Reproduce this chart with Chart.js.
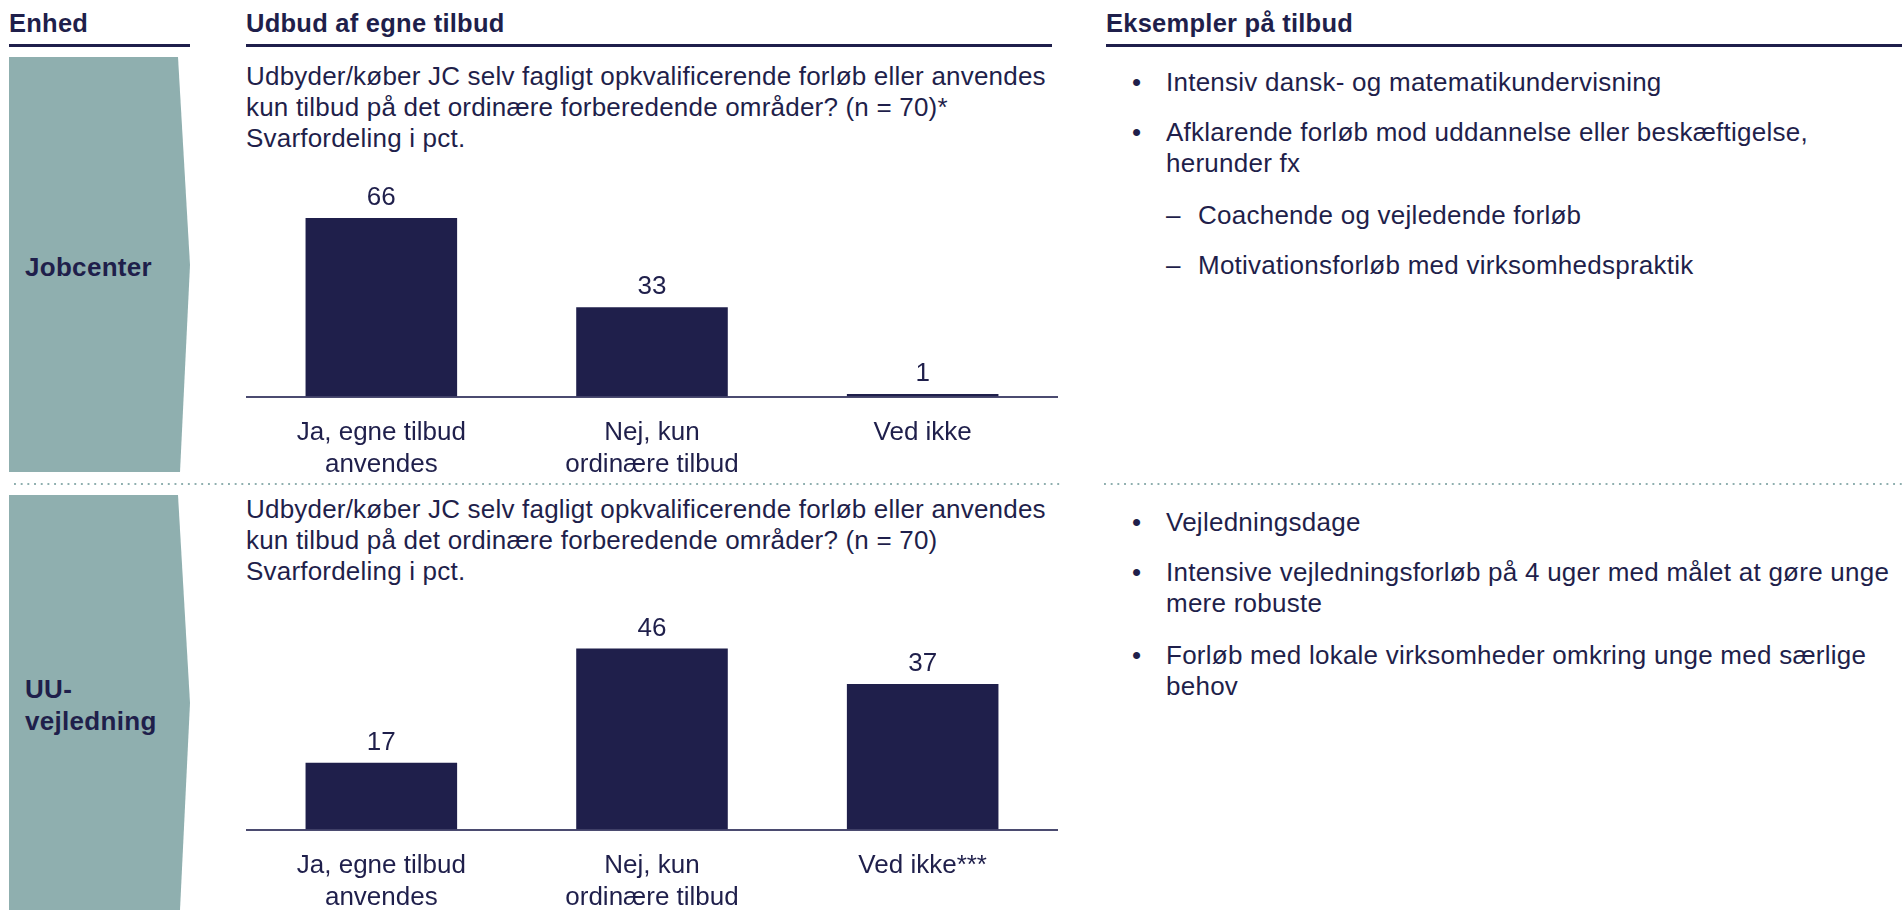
<!DOCTYPE html>
<html lang="da">

<head>
    <meta charset="UTF-8">
    <title>Udbud af egne tilbud</title>
    <style>
        body {
            margin: 0;
            width: 1902px;
            height: 918px;
            position: relative;
            background: #fff;
            font-family: "Liberation Sans", Arial, sans-serif;
            color: #1f1f4b;
            overflow: hidden;
        }

        .abs {
            position: absolute;
        }

        .head {
            font-weight: bold;
            font-size: 25.5px;
            letter-spacing: 0.25px;
            line-height: 30px;
            top: 8px;
        }

        .rule {
            height: 3px;
            top: 44px;
            background: #1f1f4b;
        }

        .dots {
            height: 2px;
            top: 483px;
            background-image: linear-gradient(to right, #8fafaf 0 2px, transparent 2px);
            background-size: 6.7px 2px;
        }

        .txt {
            font-size: 26px;
            letter-spacing: 0.2px;
            line-height: 31px;
        }

        .unit {
            font-weight: bold;
            font-size: 26px;
            letter-spacing: 0.3px;
            line-height: 32px;
            left: 25px;
        }

        .item {
            font-size: 26px;
            letter-spacing: 0.25px;
            line-height: 31px;
            left: 1166px;
            width: 736px;
        }

        .item::before {
            content: "•";
            position: absolute;
            left: -34px;
        }

        .sub {
            left: 1198px;
        }

        .sub::before {
            content: "–";
            left: -32px;
        }

        canvas {
            position: absolute;
        }
    </style>
</head>

<body>
    <div class="abs head" style="left:9px">Enhed</div>
    <div class="abs head" style="left:246px">Udbud af egne tilbud</div>
    <div class="abs head" style="left:1106px">Eksempler på tilbud</div>
    <div class="abs rule" style="left:9px;width:181px"></div>
    <div class="abs rule" style="left:246px;width:806px"></div>
    <div class="abs rule" style="left:1106px;width:796px"></div>

    <svg class="abs" style="left:0;top:0" width="200" height="918">
        <polygon points="9,57 178,57 190,265 180,472 9,472" fill="#8fafaf" />
        <polygon points="9,495 178,495 190,703 180,910 9,910" fill="#8fafaf" />
    </svg>
    <div class="abs unit" style="top:251px">Jobcenter</div>
    <div class="abs unit" style="top:673px">UU-<br>vejledning</div>

    <div class="abs dots" style="left:14px;width:1048px"></div>
    <div class="abs dots" style="left:1104px;width:798px"></div>

    <div class="abs txt" id="q1" style="left:246px;top:61px"></div>
    <div class="abs txt" id="q2" style="left:246px;top:494px"></div>

    <div class="abs item" style="top:67px">Intensiv dansk- og matematikundervisning</div>
    <div class="abs item" style="top:117px">Afklarende forløb mod uddannelse eller beskæftigelse,<br>herunder fx</div>
    <div class="abs item sub" style="top:200px">Coachende og vejledende forløb</div>
    <div class="abs item sub" style="top:250px">Motivationsforløb med virksomhedspraktik</div>

    <div class="abs item" style="top:507px">Vejledningsdage</div>
    <div class="abs item" style="top:557px">Intensive vejledningsforløb på 4 uger med målet at gøre unge<br>mere robuste</div>
    <div class="abs item" style="top:640px">Forløb med lokale virksomheder omkring unge med særlige<br>behov</div>

    <canvas id="chartJc" width="812" height="331" style="left:246px;top:170px"></canvas>
    <canvas id="chartUu" width="812" height="331" style="left:246px;top:603px"></canvas>

    <script src="https://cdn.jsdelivr.net/npm/chart.js@4.4.0/dist/chart.umd.min.js"></script>
    <script>
        const spoergsmaal1 = ['Udbyder/køber JC selv fagligt opkvalificerende forløb eller anvendes',
            'kun tilbud på det ordinære forberedende områder? (n = 70)*', 'Svarfordeling i pct.'];
        const spoergsmaal2 = ['Udbyder/køber JC selv fagligt opkvalificerende forløb eller anvendes',
            'kun tilbud på det ordinære forberedende områder? (n = 70)', 'Svarfordeling i pct.'];

        const kategorierJc = [['Ja, egne tilbud', 'anvendes'], ['Nej, kun', 'ordinære tilbud'], ['Ved ikke']];
        const kategorierUu = [['Ja, egne tilbud', 'anvendes'], ['Nej, kun', 'ordinære tilbud'], ['Ved ikke***']];
        const vaerdierJc = [66, 33, 1];
        const vaerdierUu = [17, 46, 37];

        document.getElementById('q1').innerHTML = spoergsmaal1.join('<br>');
        document.getElementById('q2').innerHTML = spoergsmaal2.join('<br>');

        const navy = '#1f1f4b';

        // tal over soejlerne
        const vaerdiLabels = {
            id: 'vaerdiLabels',
            afterDatasetsDraw(chart) {
                const ctx = chart.ctx;
                const meta = chart.getDatasetMeta(0);
                ctx.save();
                ctx.font = '26px "Liberation Sans", Arial, sans-serif';
                ctx.fillStyle = navy;
                ctx.textAlign = 'center';
                ctx.textBaseline = 'middle';
                meta.data.forEach((bar, i) => {
                    ctx.fillText(chart.data.datasets[0].data[i], bar.x, bar.y - 20);
                });
                ctx.restore();
            }
        };

        function tegn(id, labels, data, maks) {
            const ctx = document.getElementById(id).getContext('2d');
            return new Chart(ctx, {
                type: 'bar',
                data: {
                    labels: labels,
                    datasets: [{
                        data: data,
                        backgroundColor: navy,
                        barPercentage: 0.56,
                        categoryPercentage: 1,
                    }]
                },
                options: {
                    responsive: false,
                    animation: false,
                    layout: { padding: { top: 10, left: 0, right: 0, bottom: 0 } },
                    plugins: {
                        legend: { display: false },
                        tooltip: { enabled: false },
                    },
                    scales: {
                        x: {
                            grid: { display: false, drawTicks: false },
                            border: { display: true, color: '#4b4b70', width: 2 },
                            ticks: {
                                color: navy,
                                padding: 21,
                                maxRotation: 0,
                                autoSkip: false,
                                font: { size: 26, family: '"Liberation Sans", Arial, sans-serif', lineHeight: 1.2 },
                            },
                        },
                        y: {
                            display: false,
                            min: 0,
                            max: maks,
                        },
                    },
                },
                plugins: [vaerdiLabels],
            });
        }

        tegn('chartJc', kategorierJc, vaerdierJc, 80);
        tegn('chartUu', kategorierUu, vaerdierUu, 55);
    </script>
</body>

</html>
